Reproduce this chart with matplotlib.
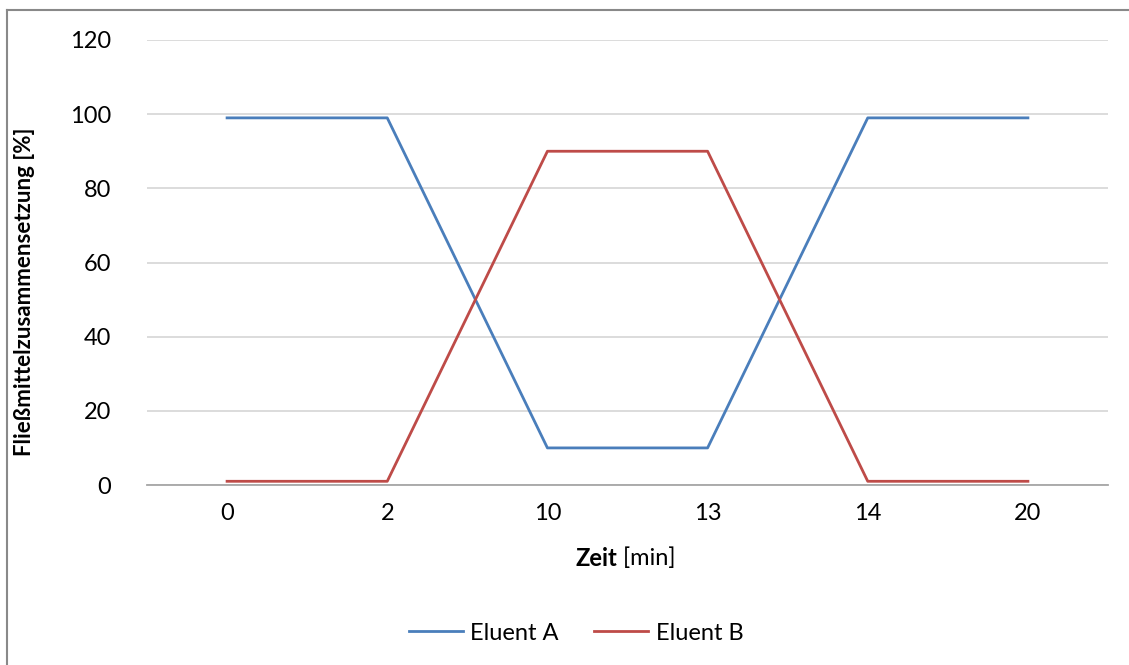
import matplotlib.pyplot as plt
from matplotlib.lines import Line2D

# data
zeit = ["0", "2", "10", "13", "14", "20"]
eluent_a = [99, 99, 10, 10, 99, 99]
eluent_b = [1, 1, 90, 90, 1, 1]

plt.rcParams["font.family"] = ["Lato", "DejaVu Sans"]
FS = 17

fig = plt.figure(figsize=[11.29, 6.65], dpi=100)
W, H = 1129, 665
ax = fig.add_axes([147 / W, 1 - 485 / H, (1108 - 147) / W, (485 - 40) / H])

x = range(len(zeit))
ax.plot(x, eluent_a, color="#4a7ebb", lw=2.0, label="Eluent A")
ax.plot(x, eluent_b, color="#be4b48", lw=2.0, label="Eluent B")

ax.set_xlim([-0.5, len(zeit) - 0.5])
ax.set_ylim([0, 120])
ax.set_xticks(list(x))
ax.set_xticklabels(zeit)
ax.set_yticks([0, 20, 40, 60, 80, 100, 120])
ax.tick_params(axis="both", length=0, labelsize=FS, colors="black")
ax.tick_params(axis="y", pad=26)
ax.tick_params(axis="x", pad=13)
ax.grid(axis="y", color="#d9d9d9", lw=1.3)
ax.set_axisbelow(True)
for s in ["top", "right", "left"]:
    ax.spines[s].set_visible(False)
ax.spines["bottom"].set_color("#a6a6a6")
ax.spines["bottom"].set_linewidth(1.3)

ax.set_ylabel("Fließmittelzusammensetzung [%]", fontsize=16, fontweight="bold")
ax.yaxis.set_label_coords(35 / W, 1 - 292 / H, transform=fig.transFigure)

# x axis label, "Zeit" bold and unit normal
t1 = fig.text(575 / W, 1 - 558 / H, "Zeit", fontsize=FS, fontweight="bold", ha="left", va="center")
ax.annotate(" [min]", xy=(1, 0), xycoords=t1, va="bottom", ha="left", fontsize=FS)

handles = [Line2D([], [], color="#4a7ebb", lw=2.0), Line2D([], [], color="#be4b48", lw=2.0)]
fig.legend(handles, ["Eluent A", "Eluent B"], loc="center", bbox_to_anchor=(576 / W, 1 - 633 / H),
           ncol=2, frameon=False, fontsize=FS, handlelength=2.3, handletextpad=0.3, columnspacing=1.5)

# chart border
fig.add_artist(Line2D([7 / W, 7 / W], [0, 1 - 10 / H], color="#898989", lw=1.5, transform=fig.transFigure))
fig.add_artist(Line2D([7 / W, 1], [1 - 10 / H, 1 - 10 / H], color="#898989", lw=1.5, transform=fig.transFigure))

fig.savefig("out.png", dpi=100)
